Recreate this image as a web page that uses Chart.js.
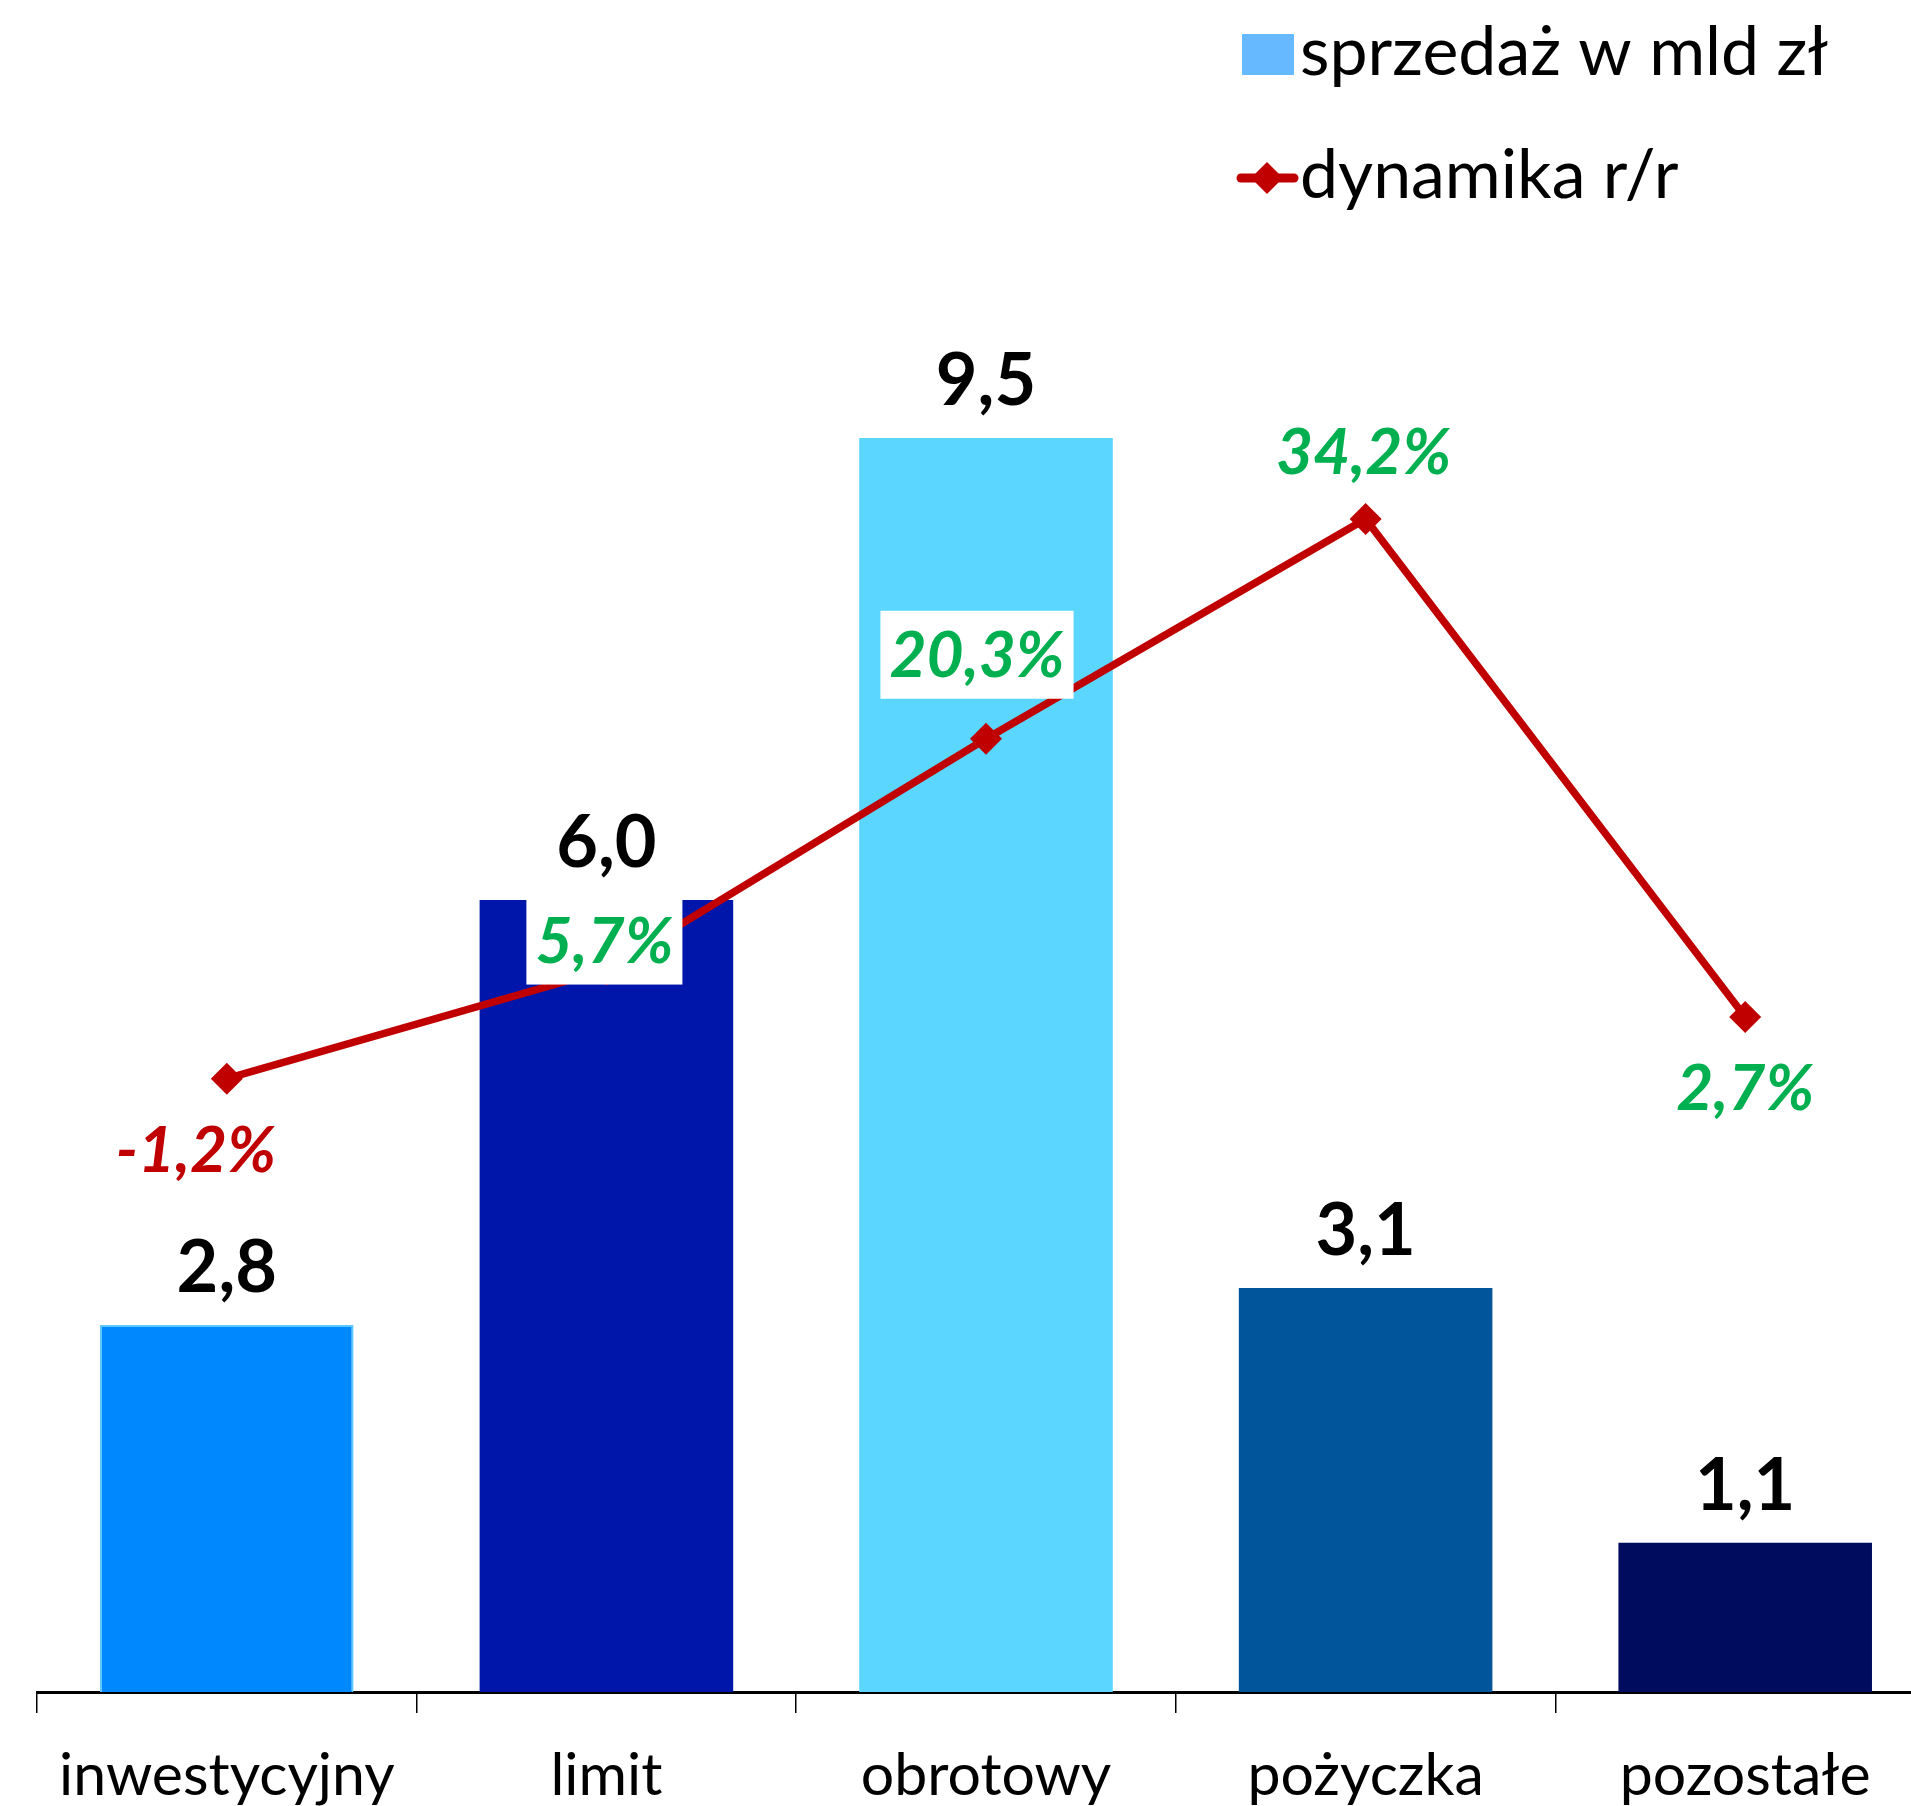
<!DOCTYPE html>
<html>
<head>
<meta charset="utf-8">
<title>Sprzedaż kredytów</title>
<script src="https://cdn.jsdelivr.net/npm/chart.js@4.4.1/dist/chart.umd.min.js"></script>
<style>
  html, body { margin: 0; padding: 0; background: #fff; overflow: hidden; }
  #wrap { width: 1911px; height: 1806px; overflow: hidden; }
  canvas { display: block; }
</style>
</head>
<body>
<div id="wrap"><canvas id="chart" width="1960" height="1806"></canvas></div>
<script>
const categories = ['inwestycyjny', 'limit', 'obrotowy', 'pożyczka', 'pozostałe'];
const salesValues = [2.78, 6.0, 9.5, 3.06, 1.13];   // mld zł
const growthValues = [-1.2, 5.7, 20.3, 34.2, 2.7];  // % r/r
const salesLabel = 'sprzedaż w mld zł';
const growthLabel = 'dynamika r/r';

const barColors = ['#0088FF', '#0016AA', '#5AD6FF', '#00559B', '#000C5E'];
const legendBarColor = '#66B8FF';
const lineColor = '#C00000';
const posColor = '#00B050';
const negColor = '#C00000';

// label shift from the point [dx, dy to baseline, white box behind]
const growthLabelPos = [[-31, 93, false], [-2, -7, true], [-9, -62, true], [-2, -45, false], [0, 93, false]];

const fmt = (v, d) => v.toFixed(d).replace('.', ',');

function diamond(ctx, x, y, r) {
    ctx.beginPath();
    ctx.moveTo(x, y - r);
    ctx.lineTo(x + r, y);
    ctx.lineTo(x, y + r);
    ctx.lineTo(x - r, y);
    ctx.closePath();
    ctx.fill();
}

const labelPlugin = {
    id: 'labels',
    afterDatasetsDraw(chart) {
        const ctx = chart.ctx;
        ctx.save();
        ctx.textAlign = 'center';
        ctx.textBaseline = 'alphabetic';

        // values above bars
        ctx.font = 'bold 72px Lato';
        ctx.fillStyle = '#000';
        chart.getDatasetMeta(0).data.forEach((bar, i) => {
            ctx.fillText(fmt(salesValues[i], 1), bar.x, bar.y - 33);
        });

        // growth labels
        ctx.font = 'italic bold 64px Lato';
        chart.getDatasetMeta(1).data.forEach((pt, i) => {
            const [dx, dy, boxed] = growthLabelPos[i];
            const txt = fmt(growthValues[i], 1) + '%';
            const x = pt.x + dx, y = pt.y + dy;
            if (boxed) {
                const w = ctx.measureText(txt).width + 18;
                ctx.fillStyle = '#fff';
                ctx.fillRect(x - w / 2, y - 66, w, 88);
            }
            ctx.fillStyle = growthValues[i] < 0 ? negColor : posColor;
            ctx.fillText(txt, x, y);
        });
        ctx.restore();
    },
    afterDraw(chart) {
        // legend, top right
        const ctx = chart.ctx;
        ctx.save();
        ctx.fillStyle = legendBarColor;
        ctx.fillRect(1242, 34, 52, 41);

        ctx.strokeStyle = lineColor;
        ctx.lineWidth = 9;
        ctx.lineCap = 'round';
        ctx.beginPath();
        ctx.moveTo(1241, 178);
        ctx.lineTo(1294, 178);
        ctx.stroke();
        ctx.fillStyle = lineColor;
        diamond(ctx, 1267, 178, 16);

        ctx.fillStyle = '#000';
        ctx.font = '68px Lato';
        ctx.textAlign = 'left';
        ctx.textBaseline = 'alphabetic';
        ctx.fillText(salesLabel, 1300, 75);
        ctx.fillText(growthLabel, 1300, 198);
        ctx.restore();
    }
};

new Chart(document.getElementById('chart'), {
    data: {
        labels: categories,
        datasets: [{
            type: 'bar',
            label: salesLabel,
            data: salesValues,
            backgroundColor: barColors,
            borderColor: ['#5BC8FF', 'rgba(0,0,0,0)', 'rgba(0,0,0,0)', 'rgba(0,0,0,0)', 'rgba(0,0,0,0)'],
            borderWidth: [2, 0, 0, 0, 0],
            categoryPercentage: 1,
            barPercentage: 0.668,
            yAxisID: 'y',
            order: 2
        }, {
            type: 'line',
            label: growthLabel,
            data: growthValues,
            borderColor: lineColor,
            borderWidth: 7.5,
            tension: 0,
            pointStyle: 'rectRot',
            pointRadius: 16,
            pointBackgroundColor: lineColor,
            pointBorderWidth: 0,
            yAxisID: 'y2',
            order: 1
        }]
    },
    options: {
        responsive: false,
        animation: false,
        devicePixelRatio: 1,
        layout: { padding: { left: 37, right: 25, top: 372, bottom: 0 } },
        plugins: {
            legend: { display: false },
            tooltip: { enabled: false }
        },
        scales: {
            x: {
                grid: { offset: true, drawOnChartArea: false, tickLength: 21, color: '#000', lineWidth: 1.5 },
                border: { color: '#000', width: 3 },
                ticks: { color: '#000', font: { family: 'Lato', size: 59 }, padding: 28, maxRotation: 0, autoSkip: false },
                afterFit: s => { s.height = 114; }
            },
            y: { display: false, min: 0, max: 10 },
            y2: { display: false, position: 'right', min: -40, max: 43.5 }
        }
    },
    plugins: [labelPlugin]
});
</script>
</body>
</html>
